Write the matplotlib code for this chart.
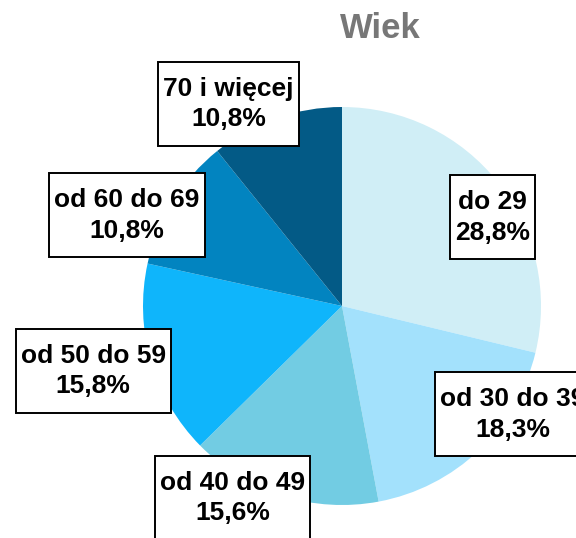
import matplotlib
matplotlib.use("Agg")
import matplotlib.pyplot as plt
from matplotlib.patches import Rectangle
from matplotlib.transforms import IdentityTransform

title = "Wiek"
categories = ["do 29", "od 30 do 39", "od 40 do 49", "od 50 do 59", "od 60 do 69", "70 i więcej"]
values = [28.8, 18.3, 15.6, 15.8, 10.8, 10.8]
colors = ["#D0EEF6", "#A3E1FC", "#72CCE3", "#0FB5FB", "#0284C0", "#035A86"]

# label box centres in data units (pie radius = 1)
label_pos = [(0.755, 0.445), (0.86, -0.545), (-0.55, -0.965),
             (-1.25, -0.325), (-1.08, 0.455), (-0.57, 1.015)]

plt.rcParams['font.family'] = ['Liberation Sans', 'DejaVu Sans']

W, H = 576, 538
fig = plt.figure(figsize=(W / 100, H / 100), dpi=100)
fig.patch.set_facecolor("white")

cx, cy, r = 342, 306, 199
ax = fig.add_axes([(cx - r) / W, (H - cy - r) / H, 2 * r / W, 2 * r / H])
ax.pie(values, colors=colors, startangle=90, counterclock=False, radius=1,
       wedgeprops=dict(linewidth=0))
ax.set_xlim(-1, 1)
ax.set_ylim(-1, 1)
ax.set_aspect("auto")
ax.axis("off")

texts = []
for cat, v, (x, y) in zip(categories, values, label_pos):
    txt = f"{cat}\n{v:.1f}%".replace(".", ",")
    t = ax.text(x, y, txt, ha="center", va="center", fontsize=19, fontweight="bold",
                color="black", linespacing=1.33, clip_on=False, zorder=4)
    texts.append(t)

fig.text(380 / W, 1 - 29 / H, title, ha="center", va="center", fontsize=25,
         fontweight="bold", color="#777777")

fig.canvas.draw()
renderer = fig.canvas.get_renderer()
padx = 5
box_h = 84
for t in texts:
    bb = t.get_window_extent(renderer)
    ymid = (bb.y0 + bb.y1) / 2
    rect = Rectangle((bb.x0 - padx, ymid - box_h / 2), bb.width + 2 * padx, box_h,
                     transform=IdentityTransform(), facecolor="white",
                     edgecolor="black", linewidth=1.4, clip_on=False, zorder=3)
    ax.add_patch(rect)

fig.savefig("out.png", dpi=100)
